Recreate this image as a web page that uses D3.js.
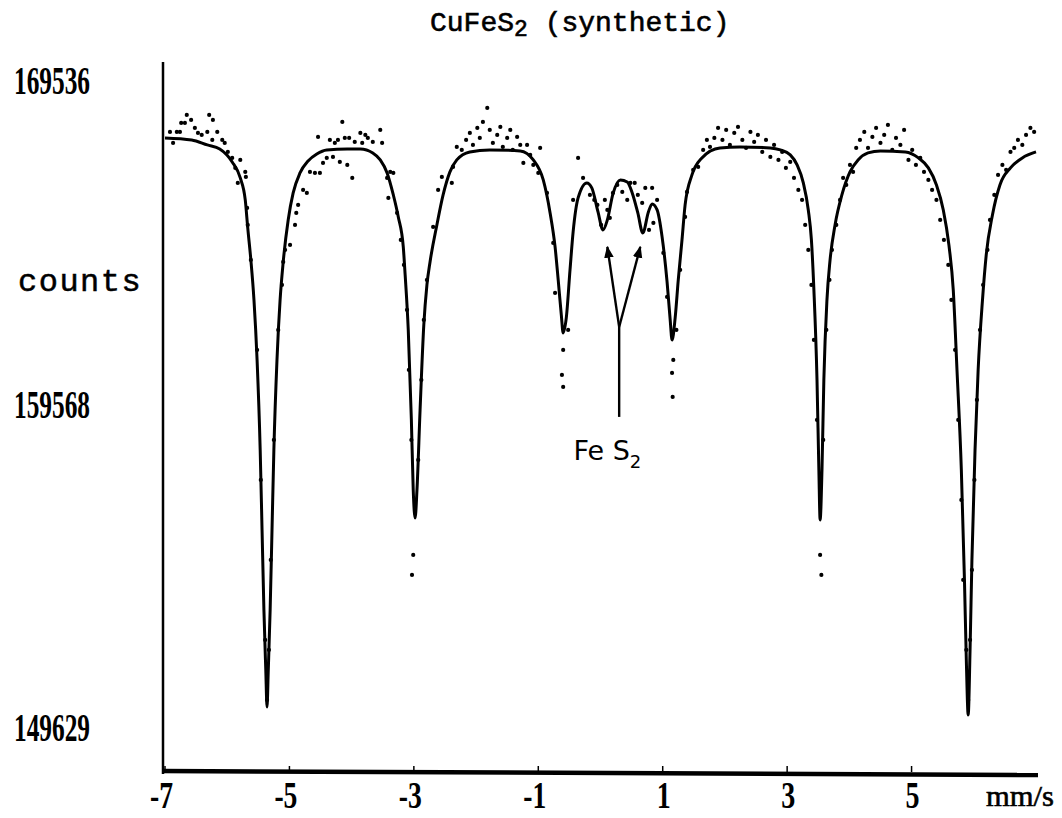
<!DOCTYPE html>
<html>

<head>
  <meta charset="UTF-8">
  <style>
    body {
      margin: 0;
      background: #fff;
    }
    svg {
      display: block;
    }
    .num {
      font-family: "Liberation Serif", serif;
      font-weight: bold;
    }
    .mono {
      font-family: "Liberation Mono", "Courier New", monospace;
    }
  </style>
</head>

<body>
  <script src="https://d3js.org/d3.v7.min.js"></script>
  <script>
    // velocity (mm/s) ticks and the three count labels printed on the plot
    var velocityTicks = [-7, -5, -3, -1, 1, 3, 5];
    var countLabels = [169536, 159568, 149629];

    // fitted curve: [velocity, counts]
    var fitCurve = [
      [-7.00, 167754], [-6.57, 167692], [-6.32, 167538], [-6.12, 167415], [-5.92, 167015],
      [-5.79, 166523], [-5.71, 165846], [-5.67, 164985], [-5.62, 164000], [-5.57, 162769],
      [-5.52, 160923], [-5.47, 158154], [-5.44, 155692], [-5.41, 153230], [-5.38, 151384],
      [-5.36, 150246], [-5.34, 151384], [-5.31, 153230], [-5.28, 155692], [-5.25, 158154],
      [-5.20, 160923], [-5.15, 162769], [-5.10, 163938], [-5.02, 165231], [-4.94, 166062],
      [-4.83, 166677], [-4.70, 167046], [-4.56, 167261], [-4.40, 167385], [-4.07, 167415],
      [-3.86, 167415], [-3.66, 167292], [-3.54, 167077], [-3.43, 166677], [-3.33, 166000],
      [-3.25, 165323], [-3.17, 164400], [-3.14, 163538], [-3.09, 161846], [-3.04, 159077],
      [-3.01, 156923], [-2.98, 156061], [-2.95, 156923], [-2.90, 159384], [-2.84, 162000],
      [-2.79, 163231], [-2.74, 163938], [-2.63, 165077], [-2.53, 166000], [-2.42, 166708],
      [-2.31, 167077], [-2.10, 167323], [-1.78, 167385], [-1.29, 167354], [-1.08, 167077],
      [-0.92, 166461], [-0.81, 165446], [-0.73, 164400], [-0.68, 163385], [-0.63, 162308],
      [-0.60, 161754], [-0.55, 162215], [-0.49, 163692], [-0.44, 164861], [-0.36, 165908],
      [-0.22, 166369], [-0.14, 166215], [-0.04, 165477], [0.04, 164923], [0.11, 165231],
      [0.20, 166031], [0.32, 166461], [0.43, 166400], [0.51, 166062], [0.60, 165446],
      [0.68, 164831], [0.77, 165477], [0.83, 165723], [0.91, 165538], [0.99, 164708],
      [1.07, 163323], [1.12, 162154], [1.15, 161538], [1.20, 162215], [1.25, 163385],
      [1.31, 164615], [1.36, 165692], [1.47, 166615], [1.63, 167139], [1.92, 167446],
      [2.24, 167477], [2.73, 167446], [2.89, 167385], [3.05, 167231], [3.16, 166923],
      [3.26, 166369], [3.34, 165538], [3.39, 164615], [3.43, 163077], [3.48, 160308],
      [3.51, 157538], [3.53, 156000], [3.56, 157538], [3.59, 160308], [3.64, 162769],
      [3.69, 164000], [3.77, 165077], [3.88, 166000], [4.01, 166708], [4.14, 167077],
      [4.30, 167292], [4.50, 167354], [4.90, 167323], [5.11, 167139], [5.27, 166831],
      [5.40, 166308], [5.51, 165538], [5.60, 164461], [5.67, 163077], [5.73, 160615],
      [5.80, 157538], [5.85, 154153], [5.88, 151692], [5.91, 150000], [5.94, 151999],
      [5.97, 154769], [6.02, 158154], [6.07, 160615], [6.14, 162769], [6.20, 164154],
      [6.30, 165385], [6.42, 166308], [6.59, 166831], [6.78, 167139], [7.00, 167323]
    ];

    // measured channels (dots): [velocity, counts]
    var channels = [
      [-6.92, 167938], [-6.87, 167600], [-6.81, 167938], [-6.76, 167938], [-6.74, 168215],
      [-6.68, 168215], [-6.65, 168461], [-6.58, 168308], [-6.52, 168062], [-6.47, 167908],
      [-6.41, 167846], [-6.32, 167938], [-6.29, 168461], [-6.24, 167692], [-6.23, 168308],
      [-6.16, 167938], [-6.08, 167692], [-6.04, 167600], [-5.99, 167323], [-5.92, 167139],
      [-5.87, 166831], [-5.83, 166369], [-5.79, 167077], [-5.71, 166708], [-5.70, 166554],
      [-5.68, 165600], [-5.67, 165077], [-5.62, 164000], [-5.52, 161231], [-5.46, 157231],
      [-5.39, 152307], [-5.36, 150461], [-5.33, 151999], [-5.30, 154769], [-5.25, 158461],
      [-5.18, 161846],
      [-5.12, 163231], [-5.10, 163938], [-5.07, 164308], [-4.99, 164461], [-4.91, 165077],
      [-4.89, 165446], [-4.86, 165692], [-4.78, 166154], [-4.72, 166062], [-4.67, 166708],
      [-4.59, 166677], [-4.54, 167785], [-4.51, 166677], [-4.46, 166985], [-4.40, 167139],
      [-4.35, 167692], [-4.30, 167169], [-4.27, 167600], [-4.22, 167692], [-4.19, 167015],
      [-4.15, 168246], [-4.11, 167754], [-4.07, 166923], [-4.04, 167754], [-3.99, 166523],
      [-3.95, 167631], [-3.86, 167908], [-3.83, 167600], [-3.78, 167846], [-3.74, 167754],
      [-3.66, 167631], [-3.54, 168000], [-3.51, 167600], [-3.43, 166523], [-3.41, 165908],
      [-3.38, 166708], [-3.33, 166677], [-3.27, 165446], [-3.21, 164615], [-3.16, 163846],
      [-3.11, 162462], [-3.08, 160615], [-3.04, 158461], [-3.03, 154307], [-3.01, 154923],
      [-2.98, 156615], [-2.93, 157846], [-2.88, 160308], [-2.84, 162154], [-2.79, 163385],
      [-2.69, 165015], [-2.61, 166154], [-2.55, 166554], [-2.39, 166369], [-2.37, 166861],
      [-2.31, 167477],
      [-2.23, 167385], [-2.16, 167692], [-2.10, 167908], [-2.05, 167538], [-1.98, 168062],
      [-1.94, 167754], [-1.89, 168246], [-1.82, 168677], [-1.78, 168000], [-1.73, 167600],
      [-1.66, 167846], [-1.61, 168092], [-1.57, 167477], [-1.50, 167754], [-1.45, 168000],
      [-1.41, 167385], [-1.34, 167785], [-1.29, 167538], [-1.24, 166985], [-1.18, 167538],
      [-1.13, 167231], [-1.08, 166923], [-1.00, 166677], [-0.97, 167446],
      [-0.86, 166062], [-0.76, 164523], [-0.73, 162985], [-0.62, 160461], [-0.60, 161231],
      [-0.60, 160092], [-0.52, 161846], [-0.44, 165846], [-0.36, 167139], [-0.28, 166523],
      [-0.17, 166000], [-0.10, 165846], [-0.05, 165692], [0.01, 165077], [0.07, 165846],
      [0.11, 165538], [0.15, 165292], [0.20, 166062], [0.27, 166308], [0.35, 166092],
      [0.43, 165846], [0.48, 166369], [0.55, 166369], [0.60, 166000], [0.67, 165754],
      [0.72, 166215], [0.78, 164923], [0.83, 166215], [0.85, 165138], [0.91, 165846],
      [1.01, 164215], [1.07, 162862], [1.15, 160523], [1.16, 159784], [1.17, 160923],
      [1.22, 161846], [1.28, 163692], [1.36, 165323], [1.39, 166092], [1.49, 166769],
      [1.57, 166861], [1.65, 167385], [1.71, 167692], [1.76, 167477],
      [1.83, 167754], [1.89, 168062], [1.96, 167692], [2.02, 168000], [2.08, 167538],
      [2.15, 167908], [2.21, 168092], [2.28, 167692], [2.34, 167446], [2.41, 167938],
      [2.47, 167631], [2.53, 167846], [2.60, 167323], [2.66, 167692], [2.73, 167169],
      [2.79, 167538], [2.86, 167077], [2.92, 167323], [2.98, 166831], [3.05, 167015],
      [3.11, 166523], [3.18, 166154],
      [3.24, 165846], [3.29, 165077], [3.34, 164308], [3.39, 163231], [3.43, 161538],
      [3.48, 159077], [3.53, 154923], [3.55, 154307], [3.58, 158461], [3.63, 161846],
      [3.68, 163385], [3.72, 164308], [3.79, 165077], [3.85, 165846], [3.90, 166523],
      [3.95, 166308], [4.01, 166923], [4.06, 166708], [4.11, 167446], [4.17, 167692],
      [4.24, 167938], [4.30, 167446], [4.37, 167785], [4.43, 168062], [4.50, 167600],
      [4.56, 167846], [4.62, 168154], [4.69, 167385], [4.75, 167754], [4.82, 167538],
      [4.88, 168000], [4.95, 167077], [5.01, 167385],
      [5.07, 166923], [5.14, 167139], [5.20, 166708], [5.27, 166461], [5.33, 166154],
      [5.40, 165846], [5.46, 165231], [5.52, 164615], [5.59, 163846], [5.64, 162769],
      [5.70, 161231], [5.75, 159077], [5.80, 156615], [5.83, 154153], [5.88, 151999],
      [5.91, 150461], [5.94, 152307], [5.97, 154461], [6.01, 157231], [6.05, 159692],
      [6.10, 161846], [6.15, 163231], [6.22, 164308], [6.26, 165231], [6.33, 166000],
      [6.39, 166615], [6.46, 166923], [6.52, 166769], [6.59, 167323], [6.65, 167446],
      [6.71, 167692], [6.78, 167538], [6.84, 167846], [6.91, 168062], [6.97, 167938]
    ];

    // FeS2 annotation: arrow tail, fork and the two tips, in data units
    var arrowTail = [0.30, 159170];
    var arrowFork = [0.30, 161938];
    var arrowTips = [[0.11, 164400], [0.64, 164400]];
    var arrowLabelAt = [0.11, 157846];

    var width = 1062, height = 818;

    var x = d3.scaleLinear().domain([-7, 7]).range([165, 1036]);
    var y = d3.scaleLinear().domain([149629, 169536]).range([727, 80]);

    var svg = d3.select('body').append('svg')
      .attr('width', width)
      .attr('height', height);

    svg.append('rect')
      .attr('width', width)
      .attr('height', height)
      .attr('fill', '#fff');

    // title
    var title = svg.append('text')
      .attr('class', 'mono')
      .attr('x', 430)
      .attr('y', 31)
      .attr('font-size', 28)
      .attr('fill', '#000')
      .attr('stroke', '#000')
      .attr('stroke-width', 0.6);
    title.append('tspan').text('CuFeS');
    title.append('tspan').attr('dy', 5).attr('font-size', 23).text('2');
    title.append('tspan').attr('dy', -5).text(' (synthetic)');

    // axes
    svg.append('line')
      .attr('x1', x(-7) - 2).attr('x2', x(-7) - 2)
      .attr('y1', 62).attr('y2', 774)
      .attr('stroke', '#000')
      .attr('stroke-width', 2.5);

    svg.append('line')
      .attr('x1', x(-7) - 3).attr('x2', x(7) + 2)
      .attr('y1', 771).attr('y2', 775)
      .attr('stroke', '#000')
      .attr('stroke-width', 4.5);

    svg.selectAll('.tick')
      .data(velocityTicks)
      .enter().append('line')
      .attr('class', 'tick')
      .attr('x1', function(d) { return x(d); })
      .attr('x2', function(d) { return x(d); })
      .attr('y1', 766).attr('y2', 772)
      .attr('stroke', '#000')
      .attr('stroke-width', 1.5);

    svg.selectAll('.xlab')
      .data(velocityTicks)
      .enter().append('text')
      .attr('class', 'xlab num')
      .attr('x', function(d) { return x(d) + 8; })
      .attr('y', 808)
      .attr('text-anchor', 'end')
      .attr('font-size', 38)
      .attr('textLength', function(d) { return d < 0 ? 23 : 14; })
      .attr('lengthAdjust', 'spacingAndGlyphs')
      .attr('fill', '#000')
      .text(function(d) { return d; });

    svg.append('text')
      .attr('x', 986)
      .attr('y', 806)
      .attr('font-family', 'Liberation Serif, serif')
      .attr('font-size', 30)
      .attr('textLength', 68)
      .attr('lengthAdjust', 'spacingAndGlyphs')
      .attr('stroke', '#000')
      .attr('stroke-width', 0.6)
      .text('mm/s');

    svg.selectAll('.ylab')
      .data(countLabels)
      .enter().append('text')
      .attr('class', 'ylab num')
      .attr('x', 14)
      .attr('y', function(d) { return y(d) + 14; })
      .attr('font-size', 40)
      .attr('textLength', 76)
      .attr('lengthAdjust', 'spacingAndGlyphs')
      .attr('fill', '#000')
      .text(function(d) { return d; });

    svg.append('text')
      .attr('class', 'mono')
      .attr('x', 18)
      .attr('y', 291)
      .attr('font-size', 32)
      .attr('letter-spacing', 1.5)
      .attr('stroke', '#000')
      .attr('stroke-width', 0.5)
      .text('counts');

    // fit line
    var line = d3.line()
      .x(function(d) { return x(d[0]); })
      .y(function(d) { return y(d[1]); })
      .curve(d3.curveMonotoneX);

    svg.append('path')
      .datum(fitCurve)
      .attr('d', line)
      .attr('fill', 'none')
      .attr('stroke', '#000')
      .attr('stroke-width', 3)
      .attr('stroke-linejoin', 'round');

    // data points
    svg.selectAll('.pt')
      .data(channels)
      .enter().append('circle')
      .attr('class', 'pt')
      .attr('cx', function(d) { return x(d[0]); })
      .attr('cy', function(d) { return y(d[1]); })
      .attr('r', 2.1)
      .attr('fill', '#000');

    // FeS2 arrows
    svg.append('defs').append('marker')
      .attr('id', 'head')
      .attr('viewBox', '0 0 10 10')
      .attr('refX', 9).attr('refY', 5)
      .attr('markerWidth', 5).attr('markerHeight', 5)
      .attr('orient', 'auto')
      .append('path')
      .attr('d', 'M0,1 L10,5 L0,9 Z')
      .attr('fill', '#000');

    svg.append('line')
      .attr('x1', x(arrowTail[0])).attr('y1', y(arrowTail[1]))
      .attr('x2', x(arrowFork[0])).attr('y2', y(arrowFork[1]))
      .attr('stroke', '#000')
      .attr('stroke-width', 2.4);

    arrowTips.forEach(function(t) {
      svg.append('line')
        .attr('x1', x(arrowFork[0])).attr('y1', y(arrowFork[1]))
        .attr('x2', x(t[0])).attr('y2', y(t[1]))
        .attr('stroke', '#000')
        .attr('stroke-width', 2.4)
        .attr('marker-end', 'url(#head)');
    });

    var fes = svg.append('text')
      .attr('x', x(arrowLabelAt[0]))
      .attr('y', y(arrowLabelAt[1]))
      .attr('text-anchor', 'middle')
      .attr('font-family', 'DejaVu Sans, sans-serif')
      .attr('font-size', 27)
      .attr('fill', '#000');
    fes.append('tspan').text('Fe S');
    fes.append('tspan').attr('dy', 8).attr('font-size', 18).text('2');
  </script>
</body>

</html>
